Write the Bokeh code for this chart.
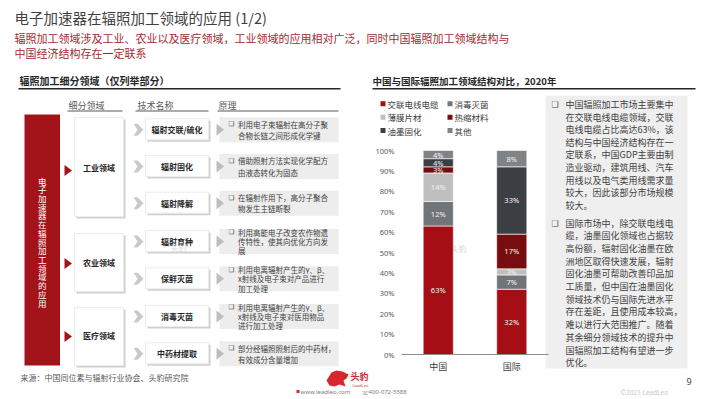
from bokeh.plotting import figure
from bokeh.models import (ColumnDataSource, Range1d, FixedTicker, LinearAxis,
                          PrintfTickFormatter)
from bokeh.embed import file_html
from bokeh.resources import INLINE
from bokeh.core.properties import value

# ---------------- data ----------------
categories = ["中国", "国际"]
segments = ["交联电线电缆", "消毒灭菌", "薄膜片材", "热缩材料", "油墨固化", "其他"]
china = [63, 12, 14, 3, 4, 4]
international = [32, 7, 3, 17, 33, 8]
y_ticks = [0, 10, 20, 30, 40, 50, 60, 70, 80, 90, 100]

domains = ["工业领域", "农业领域", "医疗领域"]
techs = ["辐射交联/硫化", "辐射固化", "辐射降解", "辐射育种", "保鲜灭菌", "消毒灭菌", "中药材提取"]
principles = [
    ["利用电子束辐射在高分子聚", "合物长链之间形成化学键"],
    ["借助照射方法实现化学配方", "由液态转化为固态"],
    ["在辐射作用下，高分子聚合", "物发生主链断裂"],
    ["利用高能电子改变农作物遗", "传特性，使其向优化方向发", "展"],
    ["利用电离辐射产生的γ、β、", "x射线及电子束对产品进行", "加工处理"],
    ["利用电离辐射产生的γ、β、", "x射线及电子束对医用物品", "进行加工处理"],
    ["部分经辐照照射后的中药材，", "有效成分含量增加"],
]
para1 = ["中国辐照加工市场主要集中", "在交联电线电缆领域，交联", "电线电缆占比高达63%，该",
         "结构与中国经济结构存在一", "定联系，中国GDP主要由制", "造业驱动，建筑用线、汽车",
         "用线以及电气类用线需求量", "较大，因此该部分市场规模", "较大。"]
para2 = ["国际市场中，除交联电线电", "缆，油墨固化领域也占据较", "高份额，辐射固化油墨在欧",
         "洲地区取得快速发展，辐射", "固化油墨可帮助改善印品加", "工质量，但中国在油墨固化",
         "领域技术仍与国际先进水平", "存在差距，且使用成本较高，", "难以进行大范围推广。随着",
         "其余细分领域技术的提升中", "国辐照加工结构有望进一步", "优化。"]

# ---------------- styles / geometry ----------------
colors = ["#a50e14", "#717579", "#bfbfbf", "#780d10", "#3b3f43", "#808386"]
RED = "#a3141a"
CJK = "Noto Sans CJK SC"
W, H = 710, 399
# chart plot area on the page (pixels)
CH_L, CH_R, CH_T, CH_B = 401.0, 548.0, 150.0, 354.0
n_cat = len(categories)
ppx = (CH_R - CH_L) / n_cat          # pixels per category
ppy = (CH_B - CH_T) / 100.0          # pixels per percent

p = figure(width=W, height=H,
           x_range=Range1d(-CH_L / ppx, (W - CH_L) / ppx),
           y_range=Range1d(-(H - CH_B) / ppy, CH_B / ppy),
           x_axis_type=None, y_axis_type=None,
           output_backend="svg", toolbar_location=None,
           min_border=0, min_border_left=0, min_border_right=0,
           min_border_top=0, min_border_bottom=0,
           outline_line_color=None, background_fill_color="white",
           border_fill_color="white")
p.grid.visible = False
p.extra_x_ranges = {"px": Range1d(0, W)}
p.extra_y_ranges = {"py": Range1d(H, 0)}

PX = dict(x_range_name="px", y_range_name="py")


def T(x, y, text, size, color="#404040", bold=False, align="left", font=CJK, alpha=1.0):
    p.text(x=[x], y=[y], text=[text], text_font=value(font), text_font_size=f"{size}px",
           text_color=color, text_font_style="bold" if bold else "normal",
           text_align=align, text_baseline="middle", text_alpha=alpha, **PX)


def B(x0, y0, x1, y1, color, line_color=None):
    p.quad(left=[x0], right=[x1], top=[y0], bottom=[y1], fill_color=color,
           line_color=line_color if line_color else None, line_width=1, **PX)


def P(xs, ys, color):
    p.patch(x=xs, y=ys, fill_color=color, line_color=None, **PX)


# ---------------- header ----------------
T(14, 17, "电子加速器在辐照加工领域的应用 (1/2)", 14.5, color="#3f3f3f")
T(14, 37, "辐照加工领域涉及工业、农业以及医疗领域，工业领域的应用相对广泛，同时中国辐照加工领域结构与", 11, color="#a32b2f")
T(14, 52, "中国经济结构存在一定联系", 11, color="#a32b2f")

T(19, 80, "辐照加工细分领域（仅列举部分）", 10, color="#262626", bold=True)
B(18, 87.5, 340, 89, "#262626")
T(372, 80, "中国与国际辐照加工领域结构对比，2020年", 9.5, color="#262626", bold=True)
B(372, 87.5, 695, 89, "#262626")

# ---------------- left diagram ----------------
for txt, x0 in [("细分领域", 68), ("技术名称", 137), ("原理", 218)]:
    T(x0, 104.5, txt, 9, color="#595959")
B(67, 110, 122, 111, "#595959")
B(135, 110, 208, 111, "#595959")
B(217, 110, 338, 111, "#595959")

B(24, 114, 59.5, 365, RED)
big = "电子加速器在辐照加工领域的应用"
for i, ch in enumerate(big):
    T(41.7, 180 + i * 8.72, ch, 8.5, color="#ffffff", align="center")

dom_boxes = [(117, 216, 167, 170), (233, 291, 262, 263), (307, 365, 335, 336)]
for name, (t, b, ty, tri) in zip(domains, dom_boxes):
    B(76, t + 2, 125, b + 2, "#cfcfcf")
    B(74, t, 123, b, "#ffffff", line_color="#ececec")
    P([64, 71.5, 64], [tri - 5.5, tri, tri + 5.5], RED)
    T(98.5, ty, name, 8, color="#262626", bold=True, align="center")

row_y = [129.3, 166, 202.7, 241, 278.3, 316, 353.3]
for name, lines, c in zip(techs, principles, row_y):
    P([133, 137, 143, 137, 133, 137], [c - 6, c - 6, c, c + 6, c + 6, c], "#c9c9c9")
    B(147, c - 9, 210, c + 12, "#cfcfcf")
    B(145, c - 11, 208, c + 10, "#ffffff", line_color="#ececec")
    T(176.5, c, name, 8, color="#262626", bold=True, align="center")
    B(219, c - 12.5, 338, c + 12.5, "#ededed")
    P([216, 223.5, 216], [c - 6, c, c + 6], "#bdbdbd")
    n = len(lines)
    step = 11.2 if n == 2 else 9.2
    y0 = c - step * (n - 1) / 2
    T(228, y0, "❑", 6.5, color="#404040", font="DejaVu Sans")
    for j, ln in enumerate(lines):
        T(237.5, y0 + j * step, ln, 7.5, color="#404040")

T(178, 247, "头豹", 8, color="#d9d9d9", align="center")
T(20, 377, "来源：中国同位素与辐射行业协会、头豹研究院", 8, color="#595959")

# ---------------- right text panel ----------------
B(545, 95, 687, 368, "#efefef")
T(551, 104, "❑", 8, color="#404040", font="DejaVu Sans")
for j, ln in enumerate(para1):
    T(565, 104 + j * 12.6, ln, 9, color="#404040")
T(551, 222.5, "❑", 8, color="#404040", font="DejaVu Sans")
for j, ln in enumerate(para2):
    T(565, 222.5 + j * 12.7, ln, 9, color="#404040")

# ---------------- legend ----------------
leg_pos = [(380, 103.3), (447, 103.3), (380, 116.7), (447, 116.7), (380, 130), (447, 130)]
for s, col, (x, y) in zip(segments, colors, leg_pos):
    B(x, y - 2.5, x + 5, y + 2.5, col)
    T(x + 7, y, s, 8.5, color="#404040")

T(458, 248, "头豹", 8, color="#d6d6d6", align="center")

# ---------------- bars (chart scales) ----------------
bar_x = [i + 0.5 for i in range(n_cat)]
src = {"x": bar_x}
for i, s in enumerate(segments):
    src[s] = [china[i], international[i]]
p.vbar_stack(segments, x="x", width=0.41, color=colors,
             source=ColumnDataSource(src), line_color="white", line_width=0.6)

lx, ly, lt = [], [], []
for bx, vals in zip(bar_x, [china, international]):
    cum = 0
    for v in vals:
        lx.append(bx)
        ly.append(cum + v / 2)
        lt.append(f"{v}%")
        cum += v
p.text(x="x", y="y", text="t", source=ColumnDataSource(dict(x=lx, y=ly, t=lt)),
       text_color="#f4f4f4", text_font_size="7.5px", text_align="center",
       text_baseline="middle", text_font=value("Noto Sans"))

yax = LinearAxis(fixed_location=0, ticker=FixedTicker(ticks=y_ticks),
                 formatter=PrintfTickFormatter(format="%d%%"))
yax.axis_line_color = None
yax.major_tick_line_color = None
yax.minor_tick_line_color = None
yax.major_tick_out = 0
yax.major_tick_in = 0
yax.minor_tick_out = 0
yax.major_label_text_font_size = "7.5px"
yax.major_label_text_color = "#595959"
yax.major_label_text_font = "Noto Sans"
yax.major_label_standoff = 7
p.add_layout(yax, "left")

xax = LinearAxis(fixed_location=0, ticker=FixedTicker(ticks=bar_x),
                 major_label_overrides={bx: c for bx, c in zip(bar_x, categories)},
                 bounds=(0, n_cat))
xax.axis_line_color = "#8c8c8c"
xax.major_tick_line_color = None
xax.minor_tick_line_color = None
xax.major_tick_out = 0
xax.major_tick_in = 0
xax.minor_tick_out = 0
xax.major_label_text_font_size = "9px"
xax.major_label_text_color = "#404040"
xax.major_label_text_font = CJK
xax.major_label_standoff = 5
p.add_layout(xax, "below")

# ---------------- footer ----------------
P([326, 331, 336, 342, 348, 346, 343, 345, 339, 334, 329, 326],
  [380, 372, 370, 371, 374, 378, 380, 386, 384, 386, 385, 380], "#d7262e")
T(350, 376, "头豹", 9, color="#d7262e", bold=True)
T(352, 384.5, "LeadLeo", 4, color="#d7262e", font="Noto Sans")
P([296, 299, 299, 296], [389.5, 389.5, 392.5, 392.5], "#d7262e")
T(300, 391.5, "www.leadleo.com", 6, color="#808080", font="Noto Sans")
T(361, 391.5, "☏", 6, color="#808080", font="DejaVu Sans")
T(368, 391.5, "400-072-5588", 6, color="#808080", font="Noto Sans")
T(620, 391.5, "©2021 LeadLeo", 6.5, color="#c8c8c8", font="Noto Sans")
T(686, 381, "9", 9, color="#404040", font="Noto Sans")

open("out.html", "w").write(file_html(p, INLINE))
